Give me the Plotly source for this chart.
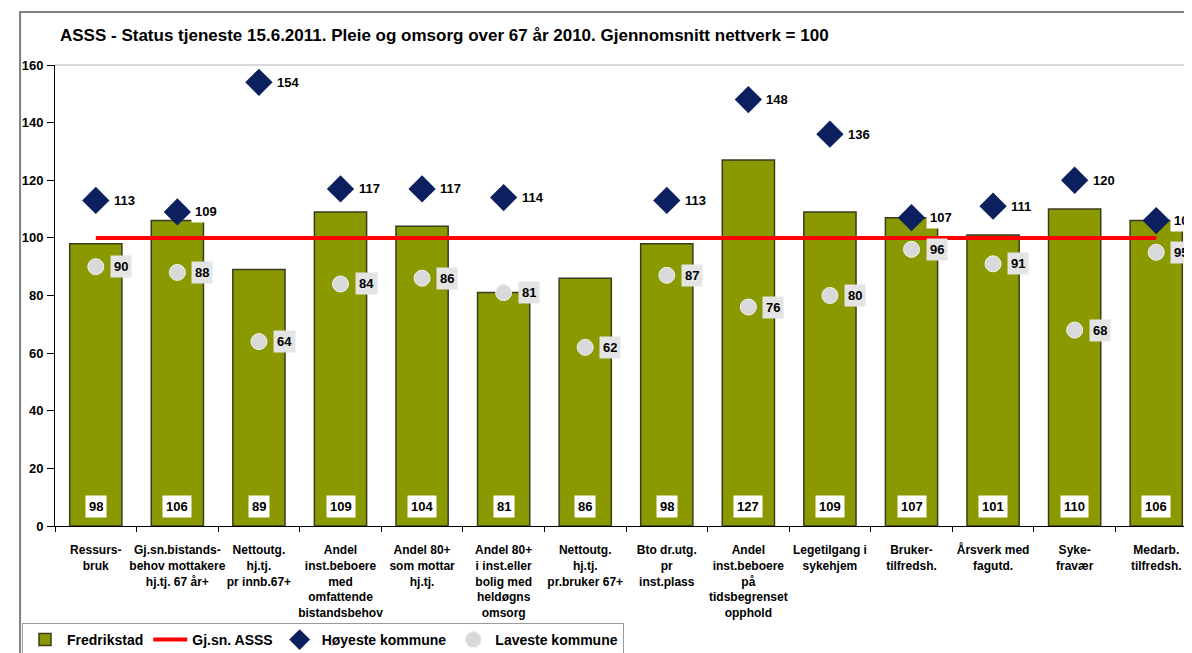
import plotly.graph_objects as go

# categories (x-axis tick labels)
categories = [
    "Ressurs-<br>bruk",
    "Gj.sn.bistands-<br>behov mottakere<br>hj.tj. 67 år+",
    "Nettoutg.<br>hj.tj.<br>pr innb.67+",
    "Andel<br>inst.beboere<br>med<br>omfattende<br>bistandsbehov",
    "Andel 80+<br>som mottar<br>hj.tj.",
    "Andel 80+<br>i inst.eller<br>bolig med<br>heldøgns<br>omsorg",
    "Nettoutg.<br>hj.tj.<br>pr.bruker 67+",
    "Bto dr.utg.<br>pr<br>inst.plass",
    "Andel<br>inst.beboere<br>på<br>tidsbegrenset<br>opphold",
    "Legetilgang i<br>sykehjem",
    "Bruker-<br>tilfredsh.",
    "Årsverk med<br>fagutd.",
    "Syke-<br>fravær",
    "Medarb.<br>tilfredsh.",
]

fredrikstad = [98, 106, 89, 109, 104, 81, 86, 98, 127, 109, 107, 101, 110, 106]
gjsn_asss = [100] * 14
hoyeste = [113, 109, 154, 117, 117, 114, None, 113, 148, 136, 107, 111, 120, 106]
laveste = [90, 88, 64, 84, 86, 81, 62, 87, 76, 80, 96, 91, 68, 95]

y_ticks = [0, 20, 40, 60, 80, 100, 120, 140, 160]

FONT = "Liberation Sans, Arial, sans-serif"
BOLD = dict(family=FONT, size=12, color="#000000", weight="bold")

fig = go.Figure()

fig.add_trace(go.Bar(
    x=categories, y=fredrikstad, name="Fredrikstad",
    marker=dict(color="#8a9900", line=dict(color="#3b3b22", width=1.5)),
    width=0.64,
))
fig.add_trace(go.Scatter(
    x=categories, y=gjsn_asss, name="Gj.sn. ASSS", mode="lines",
    line=dict(color="#ff0000", width=4),
))
fig.add_trace(go.Scatter(
    x=categories, y=hoyeste, name="Høyeste kommune", mode="markers",
    marker=dict(symbol="diamond", size=21, color="#0c1f5e",
                line=dict(color="#0c1f5e", width=0)),
))
fig.add_trace(go.Scatter(
    x=categories, y=laveste, name="Laveste kommune", mode="markers",
    marker=dict(symbol="circle", size=16, color="#d9d9d9",
                line=dict(color="#f2f2f2", width=1)),
))

annotations = []
lab_font = dict(family=FONT, size=13, color="#000000", weight="bold")
for cat, v in zip(categories, fredrikstad):
    annotations.append(dict(
        x=cat, y=0, text=str(v), showarrow=False,
        xanchor="center", yanchor="bottom", yshift=8,
        bgcolor="#ffffff", borderpad=3, font=lab_font,
    ))
for cat, v in zip(categories, hoyeste):
    if v is None:
        continue
    annotations.append(dict(
        x=cat, y=v, text=str(v), showarrow=False,
        xanchor="left", yanchor="middle", xshift=14,
        bgcolor="#ffffff", borderpad=3, font=lab_font,
    ))
for cat, v in zip(categories, laveste):
    annotations.append(dict(
        x=cat, y=v, text=str(v), showarrow=False,
        xanchor="left", yanchor="middle", xshift=14,
        bgcolor="#e4e4e4", borderpad=3, font=lab_font,
    ))

# the page body adds an 8px offset, so layout positions are 8px less than on screen
fig.update_layout(
    width=1192, height=653,
    paper_bgcolor="#ffffff", plot_bgcolor="#ffffff",
    margin=dict(l=47, r=3, t=57, b=135),
    font=dict(family=FONT, size=12, color="#000000"),
    title=dict(
        text="ASSS - Status tjeneste 15.6.2011. Pleie og omsorg over 67 år 2010. Gjennomsnitt nettverk = 100",
        x=52 / 1192, xanchor="left", y=1 - 27 / 653, yanchor="middle",
        font=dict(family=FONT, size=17, color="#000000", weight="bold"),
    ),
    xaxis=dict(
        type="category", range=[-0.5, 13.5],
        showline=True, linecolor="#000000", linewidth=1,
        ticks="outside", tickson="boundaries", ticklen=5, tickcolor="#000000",
        tickfont=BOLD, tickangle=0,
        showgrid=False, ticklabelstandoff=13,
    ),
    yaxis=dict(
        range=[0, 160], tickvals=y_ticks,
        showline=True, linecolor="#000000", linewidth=1,
        ticks="outside", ticklen=7, tickcolor="#000000",
        tickfont=dict(family=FONT, size=13, color="#000000", weight="bold"),
        showgrid=False, zeroline=False, ticklabelstandoff=1,
    ),
    showlegend=True,
    legend=dict(
        orientation="h", xref="container", yref="container",
        x=14 / 1192, xanchor="left", y=1 - 615 / 653, yanchor="top",
        bordercolor="#9a9a9a", borderwidth=1, bgcolor="#ffffff",
        font=dict(family=FONT, size=14, color="#000000", weight="bold"),
        itemwidth=34,
    ),
    annotations=annotations,
    shapes=[
        # top edge of plot area
        dict(type="line", xref="paper", yref="paper", x0=0, x1=1.01, y0=1, y1=1,
             line=dict(color="#dadada", width=2)),
        # outer chart border
        dict(type="rect", xref="paper", yref="paper", x0=-0.0306, x1=1.05,
             y0=-0.3, y1=1.115, line=dict(color="#808080", width=2)),
    ],
)

fig.write_html("out.html")
